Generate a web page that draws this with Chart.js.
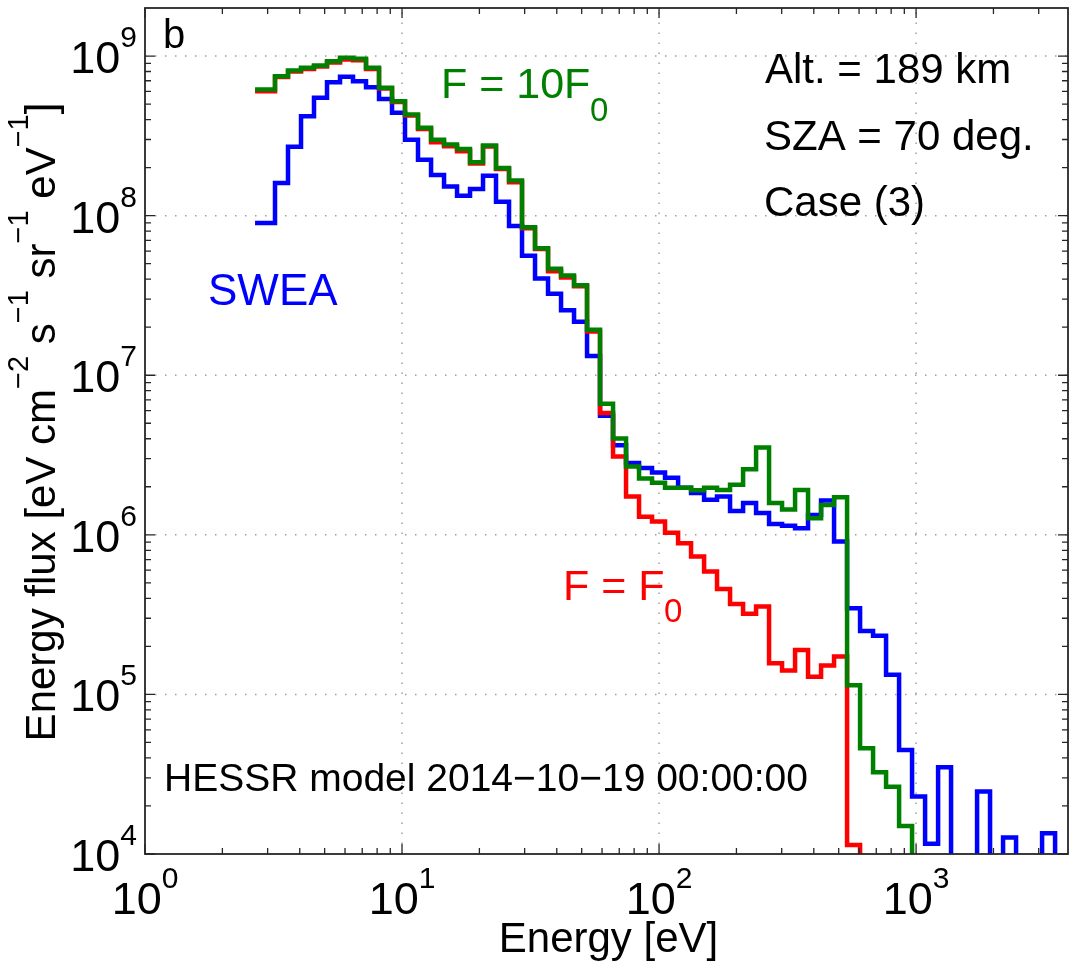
<!DOCTYPE html>
<html lang="en">
<head>
<meta charset="UTF-8">
<title>Energy flux spectra - HESSR model vs SWEA</title>
<script src="https://cdn.jsdelivr.net/npm/chart.js"></script>
<style>
  body { margin: 0; background: #fff; }
  #wrap { width: 1074px; height: 966px; position: relative; }
</style>
</head>
<body>
<div id="wrap"><canvas id="fluxChart"></canvas></div>
<script>
// energy of each stair step (eV), lower edge of the bin
const energy = [2.68, 3.205, 3.601, 4.046, 4.545, 5.107, 5.738, 6.447, 7.243, 8.138,
  9.143, 10.27, 11.54, 12.97, 14.57, 16.37, 18.39, 20.66, 23.21, 26.08,
  29.30, 32.92, 36.99, 41.56, 46.69, 52.46, 58.94, 66.22, 74.40, 83.58,
  93.91, 105.5, 118.6, 133.2, 149.7, 168.1, 188.9, 212.3, 238.5, 267.9,
  301.0, 338.2, 379.9, 426.9, 479.6, 538.9, 605.5, 680.2, 764.2, 858.7,
  964.7, 1084, 1218, 1368, 1537, 1727, 1940, 2180, 2449, 2752,
  3092, 3474, 3903];

// energy flux [eV cm-2 s-1 sr-1 eV-1]; 1 = empty bin (falls below the plot floor)
const swea = [9.0e7, 1.60e8, 2.70e8, 4.20e8, 5.47e8, 6.85e8, 7.41e8, 6.95e8, 6.37e8, 5.39e8,
  4.41e8, 2.99e8, 2.24e8, 1.80e8, 1.52e8, 1.33e8, 1.47e8, 1.78e8, 1.22e8, 8.61e7,
  5.61e7, 4.04e7, 3.24e7, 2.55e7, 2.16e7, 1.32e7, 5.57e6, 3.64e6, 2.82e6, 2.62e6,
  2.46e6, 2.28e6, 1.97e6, 1.83e6, 1.66e6, 1.74e6, 1.41e6, 1.58e6, 1.37e6, 1.17e6,
  1.14e6, 1.10e6, 1.33e6, 1.64e6, 9.08e5, 3.47e5, 2.50e5, 2.33e5, 1.33e5, 4.49e4,
  2.29e4, 1.16e4, 3.50e4, 1, 1, 2.46e4, 1, 1.27e4, 1, 1,
  1.35e4, 1];

const fluxF0 = [6.01e8, 7.38e8, 8.0e8, 8.28e8, 8.59e8, 9.1e8, 9.5e8, 9.4e8, 8.3e8, 6.25e8,
  5.15e8, 4.24e8, 3.49e8, 2.88e8, 2.72e8, 2.53e8, 2.12e8, 2.71e8, 1.96e8, 1.62e8,
  8.35e7, 6.17e7, 4.48e7, 4.10e7, 3.61e7, 1.88e7, 5.80e6, 3.10e6, 1.74e6, 1.30e6,
  1.21e6, 1.03e6, 8.87e5, 7.31e5, 5.89e5, 4.57e5, 3.69e5, 3.20e5, 3.55e5, 1.57e5,
  1.41e5, 1.90e5, 1.29e5, 1.52e5, 1.73e5, 1.14e4, 1];

const flux10F0 = [6.17e8, 7.47e8, 8.11e8, 8.44e8, 8.72e8, 9.28e8, 9.75e8, 9.60e8, 8.44e8, 6.32e8,
  5.21e8, 4.30e8, 3.55e8, 2.99e8, 2.79e8, 2.62e8, 2.16e8, 2.75e8, 1.99e8, 1.66e8,
  8.47e7, 6.24e7, 4.65e7, 4.21e7, 3.66e7, 1.93e7, 6.63e6, 4.02e6, 2.68e6, 2.25e6,
  2.12e6, 1.97e6, 1.97e6, 1.90e6, 1.97e6, 1.91e6, 2.06e6, 2.58e6, 3.53e6, 1.58e6,
  1.44e6, 1.91e6, 1.27e6, 1.54e6, 1.72e6, 1.14e5, 4.60e4, 3.25e4, 2.64e4, 1.50e4,
  1];

// axis decades (tick labels are 10^exp)
const xTickExps = [0, 1, 2, 3];
const yTickExps = [4, 5, 6, 7, 8, 9];
const xRange = [1, 3900];
const yRange = [1e4, 2e9];

const FONT = "'Liberation Sans', Arial, Helvetica, sans-serif";

function toPoints(vals) {
  return vals.map((v, i) => ({ x: energy[i], y: v }));
}

// draw "10" with a raised exponent, anchored by the right edge or centre
function drawPow(ctx, exp, x, y, align) {
  const big = '45px ' + FONT, small = '30px ' + FONT;
  ctx.font = big;
  const w1 = ctx.measureText('10').width;
  ctx.font = small;
  const w2 = ctx.measureText(String(exp)).width;
  let x0 = align === 'right' ? x - w1 - w2 : x - (w1 + w2) / 2;
  ctx.textAlign = 'left';
  ctx.font = big;
  ctx.fillText('10', x0, y);
  ctx.font = small;
  ctx.fillText(String(exp), x0 + w1, y - 26);
}

// text pieces: [string, isSuperscript]
function drawRich(ctx, parts, x, y, size, supSize, raise) {
  let cx = x;
  parts.forEach(([t, sup]) => {
    ctx.font = (sup ? supSize : size) + 'px ' + FONT;
    ctx.fillText(t, cx, sup ? y - raise : y);
    cx += ctx.measureText(t).width;
  });
}
function richWidth(ctx, parts, size, supSize) {
  let w = 0;
  parts.forEach(([t, sup]) => {
    ctx.font = (sup ? supSize : size) + 'px ' + FONT;
    w += ctx.measureText(t).width;
  });
  return w;
}

function minorVals(exps, range) {
  const out = [];
  for (let e = exps[0] - 1; e <= exps[exps.length - 1]; e++) {
    for (let m = 2; m <= 9; m++) {
      const v = m * Math.pow(10, e);
      if (v > range[0] && v < range[1]) out.push(v);
    }
  }
  return out;
}

const axesPlugin = {
  id: 'matlabAxes',
  beforeDatasetsDraw(chart) {
    const { ctx, chartArea: a, scales: { x, y } } = chart;
    ctx.save();
    ctx.strokeStyle = '#a0a0a0';
    ctx.lineWidth = 1.5;
    ctx.setLineDash([1.5, 8.5]);
    xTickExps.forEach(e => {
      const px = x.getPixelForValue(Math.pow(10, e));
      if (px <= a.left + 1 || px >= a.right - 1) return;
      ctx.beginPath(); ctx.moveTo(px, a.bottom); ctx.lineTo(px, a.top); ctx.stroke();
    });
    yTickExps.forEach(e => {
      const py = y.getPixelForValue(Math.pow(10, e));
      if (py >= a.bottom - 1 || py <= a.top + 1) return;
      ctx.beginPath(); ctx.moveTo(a.left, py); ctx.lineTo(a.right, py); ctx.stroke();
    });
    ctx.restore();
  },
  afterDatasetsDraw(chart) {
    const { ctx, chartArea: a, scales: { x, y } } = chart;
    ctx.save();
    ctx.strokeStyle = '#262626';
    ctx.lineWidth = 1.3;
    ctx.beginPath();
    // inward ticks on all four sides
    xTickExps.forEach(e => {
      const px = x.getPixelForValue(Math.pow(10, e));
      ctx.moveTo(px, a.bottom); ctx.lineTo(px, a.bottom - 10);
      ctx.moveTo(px, a.top); ctx.lineTo(px, a.top + 10);
    });
    minorVals(xTickExps, xRange).forEach(v => {
      const px = x.getPixelForValue(v);
      ctx.moveTo(px, a.bottom); ctx.lineTo(px, a.bottom - 6);
      ctx.moveTo(px, a.top); ctx.lineTo(px, a.top + 6);
    });
    yTickExps.forEach(e => {
      const py = y.getPixelForValue(Math.pow(10, e));
      ctx.moveTo(a.left, py); ctx.lineTo(a.left + 10, py);
      ctx.moveTo(a.right, py); ctx.lineTo(a.right - 10, py);
    });
    minorVals(yTickExps, yRange).forEach(v => {
      const py = y.getPixelForValue(v);
      ctx.moveTo(a.left, py); ctx.lineTo(a.left + 6, py);
      ctx.moveTo(a.right, py); ctx.lineTo(a.right - 6, py);
    });
    ctx.stroke();
    ctx.lineWidth = 1.8;
    ctx.strokeRect(a.left, a.top, a.right - a.left, a.bottom - a.top);

    // tick labels
    ctx.fillStyle = '#000';
    ctx.textBaseline = 'alphabetic';
    xTickExps.forEach(e => drawPow(ctx, e, x.getPixelForValue(Math.pow(10, e)), 914, 'center'));
    yTickExps.forEach(e => drawPow(ctx, e, 137, y.getPixelForValue(Math.pow(10, e)) + 17, 'right'));

    // axis titles
    ctx.textAlign = 'center';
    ctx.font = '42px ' + FONT;
    ctx.fillText('Energy [eV]', (a.left + a.right) / 2 + 2, 952);

    const yTitle = [['Energy flux [eV cm', 0], ['\u22122', 1], [' s', 0], ['\u22121', 1],
      [' sr', 0], ['\u22121', 1], [' eV', 0], ['\u22121', 1], [']', 0]];
    ctx.save();
    ctx.translate(55, 422);
    ctx.rotate(-Math.PI / 2);
    ctx.textAlign = 'left';
    const tw = richWidth(ctx, yTitle, 42, 29);
    drawRich(ctx, yTitle, -tw / 2, 0, 42, 29, 27);
    ctx.restore();

    // annotations
    ctx.textAlign = 'left';
    ctx.font = '40px ' + FONT;
    ctx.fillText('b', 163, 48);

    ctx.fillStyle = '#008000';
    ctx.font = '43px ' + FONT;
    ctx.fillText('F = 10F', 441, 98);
    ctx.font = '33px ' + FONT;
    ctx.fillText('0', 590, 121);

    ctx.fillStyle = '#0000ff';
    ctx.font = '44px ' + FONT;
    ctx.fillText('SWEA', 208, 305);

    ctx.fillStyle = '#ff0000';
    ctx.font = '43px ' + FONT;
    ctx.fillText('F = F', 563, 600);
    ctx.font = '33px ' + FONT;
    ctx.fillText('0', 664, 622);

    ctx.fillStyle = '#000';
    ctx.font = '42px ' + FONT;
    ctx.fillText('Alt. = 189 km', 765, 83);
    ctx.fillText('SZA = 70 deg.', 764, 150);
    ctx.fillText('Case (3)', 764, 216);

    ctx.font = '39px ' + FONT;
    ctx.fillText('HESSR model 2014\u221210\u221219 00:00:00', 164, 791);
    ctx.restore();
  }
};

const lineStyle = { stepped: true, fill: false, borderWidth: 4.5, pointRadius: 0,
  borderJoinStyle: 'miter', borderCapStyle: 'butt', clip: 0 };

new Chart(document.getElementById('fluxChart'), {
  type: 'line',
  data: {
    datasets: [
      Object.assign({ label: 'F = 10F0', data: toPoints(flux10F0), borderColor: '#008000' }, lineStyle),
      Object.assign({ label: 'F = F0', data: toPoints(fluxF0), borderColor: '#ff0000' }, lineStyle),
      Object.assign({ label: 'SWEA', data: toPoints(swea), borderColor: '#0000ff' }, lineStyle)
    ]
  },
  options: {
    responsive: true,
    maintainAspectRatio: false,
    animation: false,
    parsing: true,
    layout: { padding: { left: 145, right: 6, top: 8, bottom: 112 } },
    plugins: { legend: { display: false }, tooltip: { enabled: false } },
    scales: {
      x: { type: 'logarithmic', min: xRange[0], max: xRange[1], display: false },
      y: { type: 'logarithmic', min: yRange[0], max: yRange[1], display: false }
    }
  },
  plugins: [axesPlugin]
});
</script>
</body>
</html>
